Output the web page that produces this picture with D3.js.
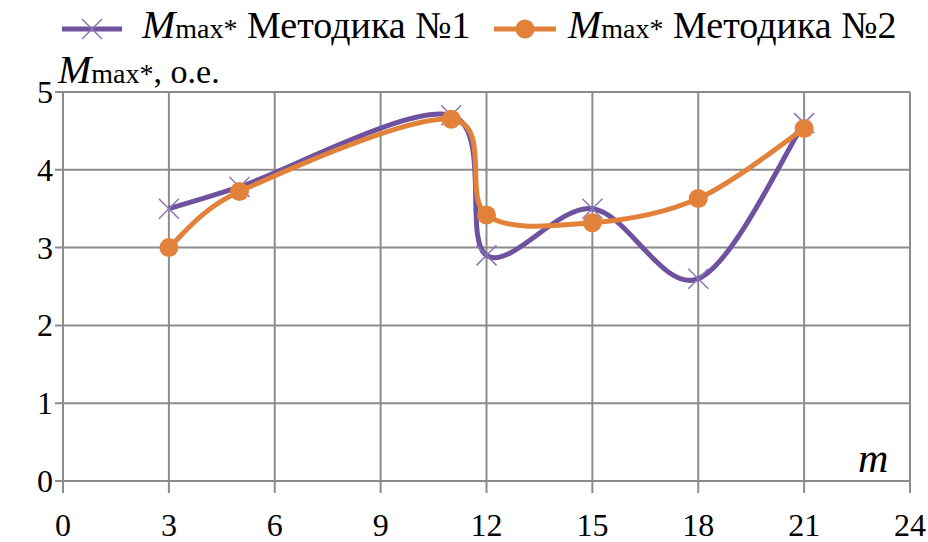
<!DOCTYPE html>
<html><head><meta charset="utf-8">
<script src="https://cdn.jsdelivr.net/npm/d3@7"></script>
</head>
<body style="margin:0;background:#fff">
<svg id="chart" width="928" height="542"></svg>
<script>
const xValues = [3, 5, 11, 12, 15, 18, 21];
const method1 = [3.5, 3.78, 4.7, 2.9, 3.5, 2.6, 4.6];
const method2 = [3.0, 3.72, 4.65, 3.42, 3.32, 3.63, 4.53];
const xTicks = [0, 3, 6, 9, 12, 15, 18, 21, 24];
const yTicks = [0, 1, 2, 3, 4, 5];
const seriesNames = ["Методика №1", "Методика №2"];

const colors = {m1: "#6f529f", m1marker: "#8a76b8", m2: "#e2823a", grid: "#8c8c8c"};

const svg = d3.select("#chart");
const x = d3.scaleLinear().domain([0, 24]).range([63, 910]);
const y = d3.scaleLinear().domain([0, 5]).range([481, 92]);

function serif(sel) { return sel.style("font-family", () => "Times New Roman"); }

// grid
svg.selectAll(".vg").data(xTicks).join("line").attr("class", "vg")
  .attr("x1", d => x(d)).attr("x2", d => x(d))
  .attr("y1", y(5)).attr("y2", y(0) + 12)
  .attr("stroke", colors.grid).attr("stroke-width", 2);
svg.selectAll(".hg").data(yTicks).join("line").attr("class", "hg")
  .attr("x1", x(0) - 8).attr("x2", x(24))
  .attr("y1", d => y(d)).attr("y2", d => y(d))
  .attr("stroke", colors.grid).attr("stroke-width", 2);

// tick labels
svg.selectAll(".xl").data(xTicks).join("text").attr("class", "xl")
  .attr("x", d => x(d)).attr("y", 536)
  .attr("font-size", 32).call(serif)
  .attr("text-anchor", "middle")
  .text(d => d);
svg.selectAll(".yl").data(yTicks).join("text").attr("class", "yl")
  .attr("x", 53).attr("y", d => y(d) + 11)
  .attr("font-size", 32).call(serif)
  .attr("text-anchor", "end")
  .text(d => d);

// Excel-like smoothing
function excelPath(pts) {
  const p = d3.path();
  const n = pts.length;
  const dist = (a, b) => Math.hypot(a[0] - b[0], a[1] - b[1]);
  p.moveTo(pts[0][0], pts[0][1]);
  for (let i = 0; i < n - 1; i++) {
    const P0 = pts[Math.max(0, i - 1)], P1 = pts[i], P2 = pts[i + 1], P3 = pts[Math.min(n - 1, i + 2)];
    const d12 = dist(P1, P2), d02 = dist(P0, P2), d13 = dist(P1, P3);
    let f1 = 1 / 6, f2 = 1 / 6;
    if (d02 / 6 > d12 / 2 && d02 > 0) f1 = d12 / 2 / d02;
    if (d13 / 6 > d12 / 2 && d13 > 0) f2 = d12 / 2 / d13;
    const c1 = [P1[0] + (P2[0] - P0[0]) * f1, P1[1] + (P2[1] - P0[1]) * f1];
    const c2 = [P2[0] - (P3[0] - P1[0]) * f2, P2[1] - (P3[1] - P1[1]) * f2];
    p.bezierCurveTo(c1[0], c1[1], c2[0], c2[1], P2[0], P2[1]);
  }
  return p.toString();
}

const pts1 = xValues.map((d, i) => [x(d), y(method1[i])]);
const pts2 = xValues.map((d, i) => [x(d), y(method2[i])]);

svg.append("path").attr("d", excelPath(pts1)).attr("fill", "none")
  .attr("stroke", colors.m1).attr("stroke-width", 5).attr("stroke-linejoin", "round");
svg.selectAll(".mk1").data(pts1).join("path").attr("class", "mk1")
  .attr("d", d => `M${d[0]-10},${d[1]-10}L${d[0]+10},${d[1]+10}M${d[0]-10},${d[1]+10}L${d[0]+10},${d[1]-10}`)
  .attr("stroke", colors.m1marker).attr("stroke-width", 1.5).attr("fill", "none");

svg.append("path").attr("d", excelPath(pts2)).attr("fill", "none")
  .attr("stroke", colors.m2).attr("stroke-width", 5).attr("stroke-linejoin", "round");
svg.selectAll(".mk2").data(pts2).join("circle").attr("class", "mk2")
  .attr("cx", d => d[0]).attr("cy", d => d[1]).attr("r", 9.5)
  .attr("fill", colors.m2);

// legend / titles
function mLabel(xPos, yPos, tail, tailSize) {
  const t = svg.append("text").attr("x", xPos).attr("y", yPos).attr("font-size", tailSize).call(serif);
  t.append("tspan").attr("font-size", 40).attr("font-style", "italic").call(serif).text("M");
  t.append("tspan").attr("font-size", 28).call(serif).text("max*");
  t.append("tspan").attr("font-size", tailSize).call(serif).text(tail);
  return t;
}
svg.append("line").attr("x1", 62).attr("x2", 122).attr("y1", 29).attr("y2", 29)
  .attr("stroke", colors.m1).attr("stroke-width", 5);
svg.append("path").attr("d", "M82,19L102,39M82,39L102,19")
  .attr("stroke", colors.m1marker).attr("stroke-width", 1.5);
mLabel(142, 38, " " + seriesNames[0], 38);

svg.append("line").attr("x1", 494).attr("x2", 556).attr("y1", 29).attr("y2", 29)
  .attr("stroke", colors.m2).attr("stroke-width", 5);
svg.append("circle").attr("cx", 525).attr("cy", 29).attr("r", 9.5).attr("fill", colors.m2);
mLabel(568, 38, " " + seriesNames[1], 38);

mLabel(58, 83, ", о.е.", 34);
svg.append("text").attr("x", 858).attr("y", 472)
  .attr("font-size", 42).attr("font-style", "italic").call(serif)
  .text("m");
</script>
</body></html>
